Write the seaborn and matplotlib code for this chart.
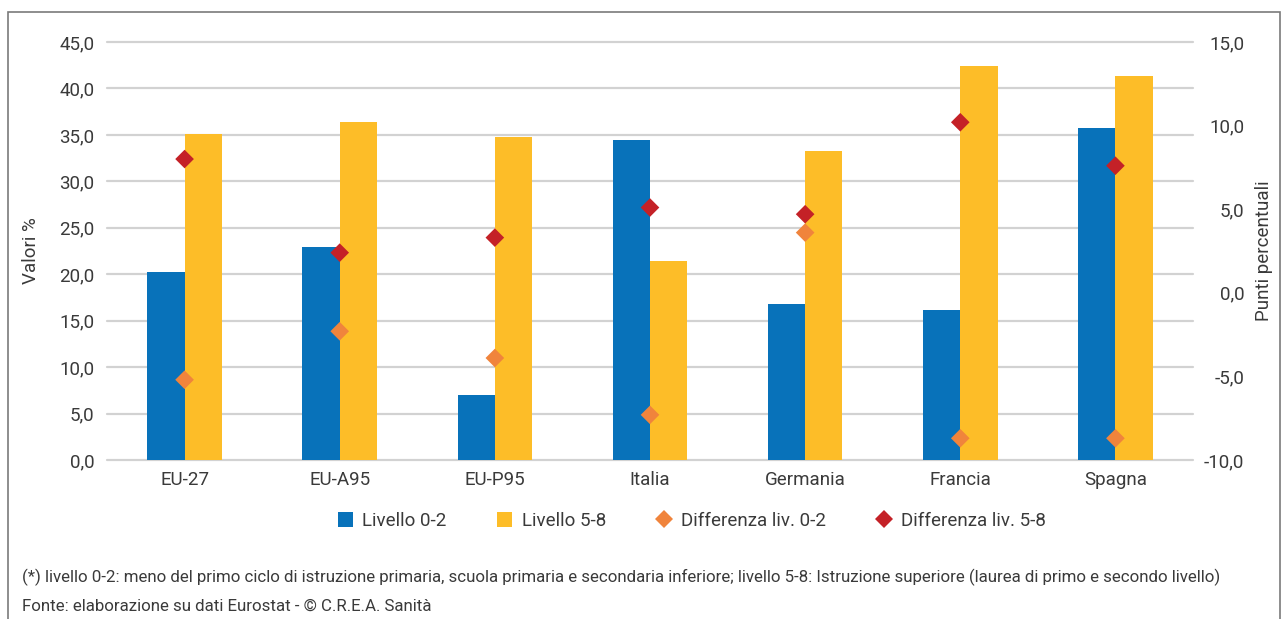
import pandas as pd
import matplotlib
matplotlib.use("Agg")
import matplotlib.pyplot as plt
from matplotlib.ticker import FuncFormatter, MultipleLocator
from matplotlib.patches import Rectangle
import seaborn as sns

# data
paesi = ["EU-27", "EU-A95", "EU-P95", "Italia", "Germania", "Francia", "Spagna"]
livello_02 = [20.2, 22.9, 7.0, 34.4, 16.8, 16.2, 35.7]
livello_58 = [35.1, 36.4, 34.8, 21.4, 33.3, 42.4, 41.3]
diff_02 = [-5.2, -2.3, -3.9, -7.3, 3.6, -8.7, -8.7]
diff_58 = [8.0, 2.4, 3.3, 5.1, 4.7, 10.2, 7.6]

serie_barre = ["Livello 0-2", "Livello 5-8"]
serie_punti = ["Differenza liv. 0-2", "Differenza liv. 5-8"]

bars = pd.DataFrame({
    "paese": paesi * 2,
    "serie": [serie_barre[0]] * 7 + [serie_barre[1]] * 7,
    "valore": livello_02 + livello_58,
})
punti = pd.DataFrame({
    "paese": paesi * 2,
    "serie": [serie_punti[0]] * 7 + [serie_punti[1]] * 7,
    "valore": diff_02 + diff_58,
})

sns.set_style("white")
plt.rcParams["font.family"] = ["Roboto", "DejaVu Sans"]
text_col = "#3a3a3a"
fs = 13.5

fig = plt.figure(figsize=(12.82, 6.19), dpi=100)
ax = fig.add_axes([107 / 1282, 1 - 460 / 619, 1086 / 1282, 418 / 619])

sns.barplot(data=bars, x="paese", y="valore", hue="serie", order=paesi,
            palette=["#0872ba", "#fdbd28"], width=0.48, gap=0, saturation=1,
            linewidth=0, ax=ax)
ax.set_ylim(0, 45)
ax.yaxis.set_major_locator(MultipleLocator(5))
fmt = FuncFormatter(lambda v, p: f"{v:.1f}".replace(".", ","))
ax.yaxis.set_major_formatter(fmt)
ax.yaxis.grid(True, color="#d2d2d2", lw=1.6, clip_on=False)
ax.set_axisbelow(True)
ax.set_xlabel("")
ax.set_ylabel("Valori %", fontsize=fs, color=text_col)
ax.yaxis.set_label_coords(-0.062, 0.5)
ax.tick_params(axis="both", length=0, labelsize=fs, labelcolor=text_col)
ax.tick_params(axis="y", pad=9)
ax.tick_params(axis="x", pad=8)
for s in ax.spines.values():
    s.set_visible(False)

ax2 = ax.twinx()
sns.stripplot(data=punti, x="paese", y="valore", hue="serie", order=paesi,
              palette=["#f0843c", "#c42127"], jitter=False, dodge=False,
              marker="D", size=9.5, linewidth=0, ax=ax2)
ax2.set_ylim(-10, 15)
ax2.yaxis.set_major_locator(MultipleLocator(5))
ax2.yaxis.set_major_formatter(fmt)
ax2.set_ylabel("Punti percentuali", fontsize=fs, color=text_col)
ax2.yaxis.set_label_coords(1.057, 0.5)
ax2.tick_params(axis="y", length=0, labelsize=fs, labelcolor=text_col, pad=37)
for lab in ax2.get_yticklabels():
    lab.set_horizontalalignment("right")
ax2.set_xlabel("")
ax2.set_xlim(ax.get_xlim())
for s in ax2.spines.values():
    s.set_visible(False)

h1, l1 = ax.get_legend_handles_labels()
h2, l2 = ax2.get_legend_handles_labels()
ax.get_legend().remove()
ax2.get_legend().remove()
leg = fig.legend(h1 + h2, l1 + l2, loc="center", bbox_to_anchor=(692 / 1282, 1 - 521 / 619),
                 ncol=4, frameon=False, fontsize=fs, handlelength=0.8,
                 handleheight=0.8, handletextpad=0.5, columnspacing=2.7)
for t in leg.get_texts():
    t.set_color(text_col)

fig.text(22 / 1282, 1 - 577 / 619,
         "(*) livello 0-2: meno del primo ciclo di istruzione primaria, scuola primaria e secondaria inferiore; "
         "livello 5-8: Istruzione superiore (laurea di primo e secondo livello)",
         fontsize=12.2, color=text_col, va="center")
fig.text(22 / 1282, 1 - 606 / 619,
         "Fonte: elaborazione su dati Eurostat - \u00a9 C.R.E.A. Sanit\u00e0",
         fontsize=12.2, color=text_col, va="center")

fig.patches.append(Rectangle((8 / 1282, -0.05), 1272 / 1282, 1.05 - 12 / 619,
                             transform=fig.transFigure, fill=False,
                             edgecolor="#7a7a7a", lw=1.2))

fig.savefig("out.png", dpi=100)
